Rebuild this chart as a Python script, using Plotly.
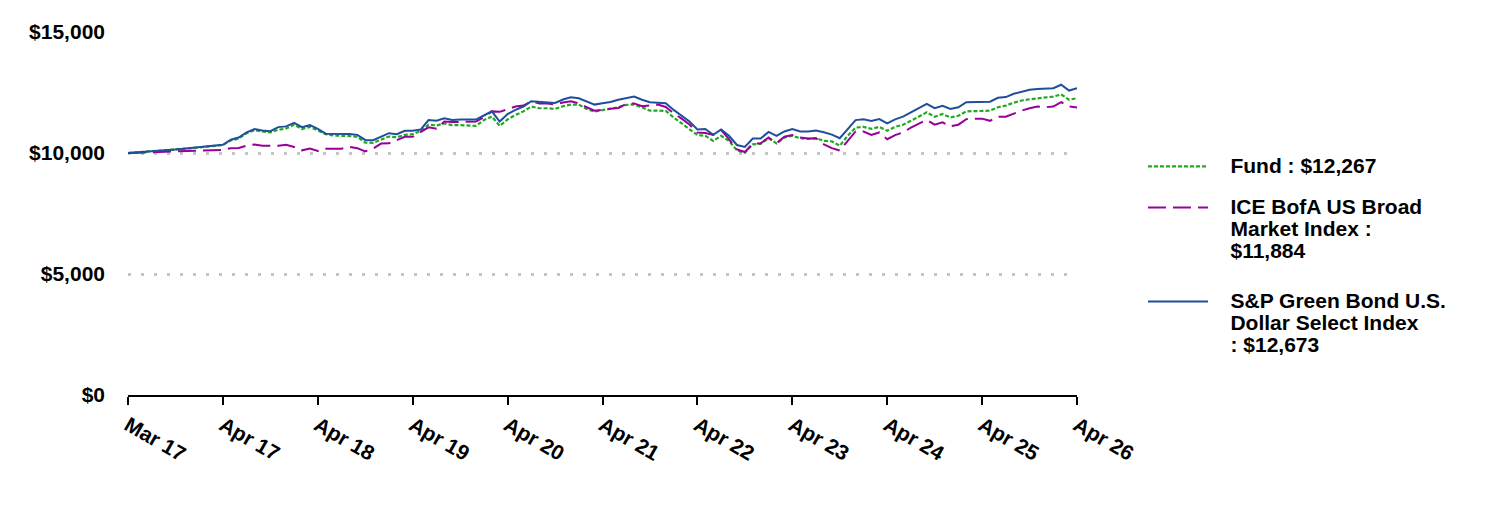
import plotly.graph_objects as go

tick_labels = ["Mar 17", "Apr 17", "Apr 18", "Apr 19", "Apr 20", "Apr 21",
               "Apr 22", "Apr 23", "Apr 24", "Apr 25", "Apr 26"]

fund = [10000, 10020, 10040, 10060, 10080, 10110, 10140, 10170, 10200, 10230, 10260, 10290,
        10330, 10520, 10600, 10820, 10940, 10890, 10850, 10960, 11010, 11170, 10990, 11080,
        10940, 10780, 10720, 10720, 10700, 10670, 10430, 10420, 10550, 10680, 10650, 10750,
        10780, 10900, 11170, 11140, 11220, 11150, 11150, 11150, 11120, 11360, 11510, 11120,
        11390, 11570, 11720, 11920, 11850, 11850, 11820, 11930, 12000, 12000, 11820, 11710,
        11760, 11820, 11890, 11990, 12000, 11890, 11750, 11750, 11740, 11470, 11220, 10990,
        10740, 10710, 10500, 10710, 10500, 10110, 10010, 10360, 10380, 10610, 10400, 10640,
        10710, 10610, 10580, 10610, 10500, 10480, 10300, 10710, 11050, 11080, 11000, 11080,
        10920, 11080, 11170, 11330, 11500, 11680, 11500, 11610, 11470, 11540, 11720, 11720,
        11730, 11750, 11890, 11960, 12080, 12170, 12220, 12250, 12290, 12330, 12420, 12200,
        12267]

ice = [10000, 10010, 10020, 10030, 10040, 10050, 10060, 10070, 10080, 10090, 10100, 10110,
       10130, 10200, 10210, 10300, 10350, 10300, 10300, 10300, 10340, 10250, 10110, 10180,
       10080, 10180, 10180, 10180, 10250, 10200, 10070, 10180, 10390, 10400, 10530, 10670,
       10670, 10850, 11060, 11000, 11300, 11280, 11280, 11280, 11300, 11480, 11720, 11700,
       11820, 11920, 11960, 12140, 12050, 12050, 12000, 12090, 12140, 12050, 11890, 11750,
       11790, 11820, 11860, 12030, 12050, 11930, 11960, 12000, 11900, 11640, 11420, 11180,
       10850, 10830, 10750, 10950, 10570, 10150, 10040, 10390, 10400, 10640, 10400, 10670,
       10740, 10640, 10600, 10610, 10360, 10200, 10100, 10500, 10890, 10890, 10750, 10850,
       10570, 10740, 10850, 11050, 11220, 11370, 11170, 11270, 11100, 11170, 11400, 11400,
       11420, 11330, 11500, 11500, 11640, 11750, 11850, 11920, 11890, 11920, 12100, 11920,
       11884]

sp = [10000, 10020, 10040, 10065, 10090, 10115, 10145, 10175, 10205, 10235, 10270, 10305,
      10340, 10550, 10640, 10850, 10990, 10930, 10900, 11070, 11100, 11250, 11070, 11150,
      11000, 10800, 10800, 10800, 10780, 10750, 10540, 10530, 10680, 10820, 10780, 10920,
      10920, 10970, 11360, 11330, 11430, 11360, 11380, 11380, 11380, 11550, 11720, 11300,
      11610, 11780, 11920, 12140, 12110, 12100, 12070, 12210, 12300, 12260, 12140, 12000,
      12060, 12110, 12200, 12280, 12330, 12200, 12100, 12080, 12060, 11780, 11540, 11300,
      10970, 10990, 10750, 10970, 10710, 10330, 10250, 10600, 10600, 10870, 10710, 10890,
      10990, 10890, 10890, 10930, 10860, 10760, 10610, 10990, 11360, 11390, 11320, 11400,
      11220, 11390, 11500, 11680, 11860, 12030, 11850, 11950, 11820, 11890, 12100, 12100,
      12110, 12120, 12280, 12310, 12450, 12540, 12610, 12640, 12650, 12680, 12820, 12580,
      12673]

y_ticks = [0, 5000, 10000, 15000]
y_tick_text = ["$0", "$5,000", "$10,000", "$15,000"]

fund_label = ["Fund : $12,267"]
ice_label = ["ICE BofA US Broad", "Market Index :", "$11,884"]
sp_label = ["S&P Green Bond U.S.", "Dollar Select Index", ": $12,673"]

months = list(range(len(fund)))
tick_pos = months[::12]

FONT = "Liberation Sans, Arial, sans-serif"


def legend_name(lines):
    pad = "&nbsp;&nbsp;&nbsp;"
    return "<br>".join('<span style="font-size:21px">' + pad + ln + "</span>" for ln in lines)


fig = go.Figure()
fig.add_trace(go.Scatter(
    x=months, y=fund, mode="lines", name=legend_name(fund_label), legend="legend",
    line=dict(color="#1faa1f", width=2.2, dash="4px,2px")))
fig.add_trace(go.Scatter(
    x=months, y=ice, mode="lines", name=legend_name(ice_label), legend="legend2",
    line=dict(color="#990099", width=2, dash="18px,7px")))
fig.add_trace(go.Scatter(
    x=months, y=sp, mode="lines", name=legend_name(sp_label), legend="legend3",
    line=dict(color="#1f4e9b", width=2)))


def leg(y):
    return dict(
        x=1.0695, y=y, xanchor="left", yanchor="top",
        font=dict(family=FONT, size=17, color="black", weight="bold"),
        valign="top", itemwidth=60, bgcolor="rgba(0,0,0,0)",
    )


fig.update_layout(
    width=1488, height=516,
    margin=dict(l=128, r=411, t=32, b=121),
    paper_bgcolor="white", plot_bgcolor="white",
    font=dict(family=FONT, size=21, color="black"),
    showlegend=True,
    legend=leg(0.678),
    legend2=leg(0.565),
    legend3=leg(0.306),
    xaxis=dict(
        range=[0, 120], tickvals=tick_pos, ticktext=tick_labels,
        tickangle=30, ticks="outside", ticklen=8, tickwidth=1.5, tickcolor="black",
        showline=True, linecolor="black", linewidth=2,
        showgrid=False, zeroline=False,
        tickfont=dict(family=FONT, size=21, color="black", weight="bold"),
    ),
    yaxis=dict(
        range=[0, 15000], tickvals=y_ticks, ticktext=y_tick_text,
        showline=False, zeroline=False,
        showgrid=True, gridcolor="#c4c4c4", gridwidth=3, griddash="3px,10px",
        ticks="", ticklabelstandoff=22,
        tickfont=dict(family=FONT, size=21, color="black", weight="bold"),
    ),
)

fig.write_html("out.html")
